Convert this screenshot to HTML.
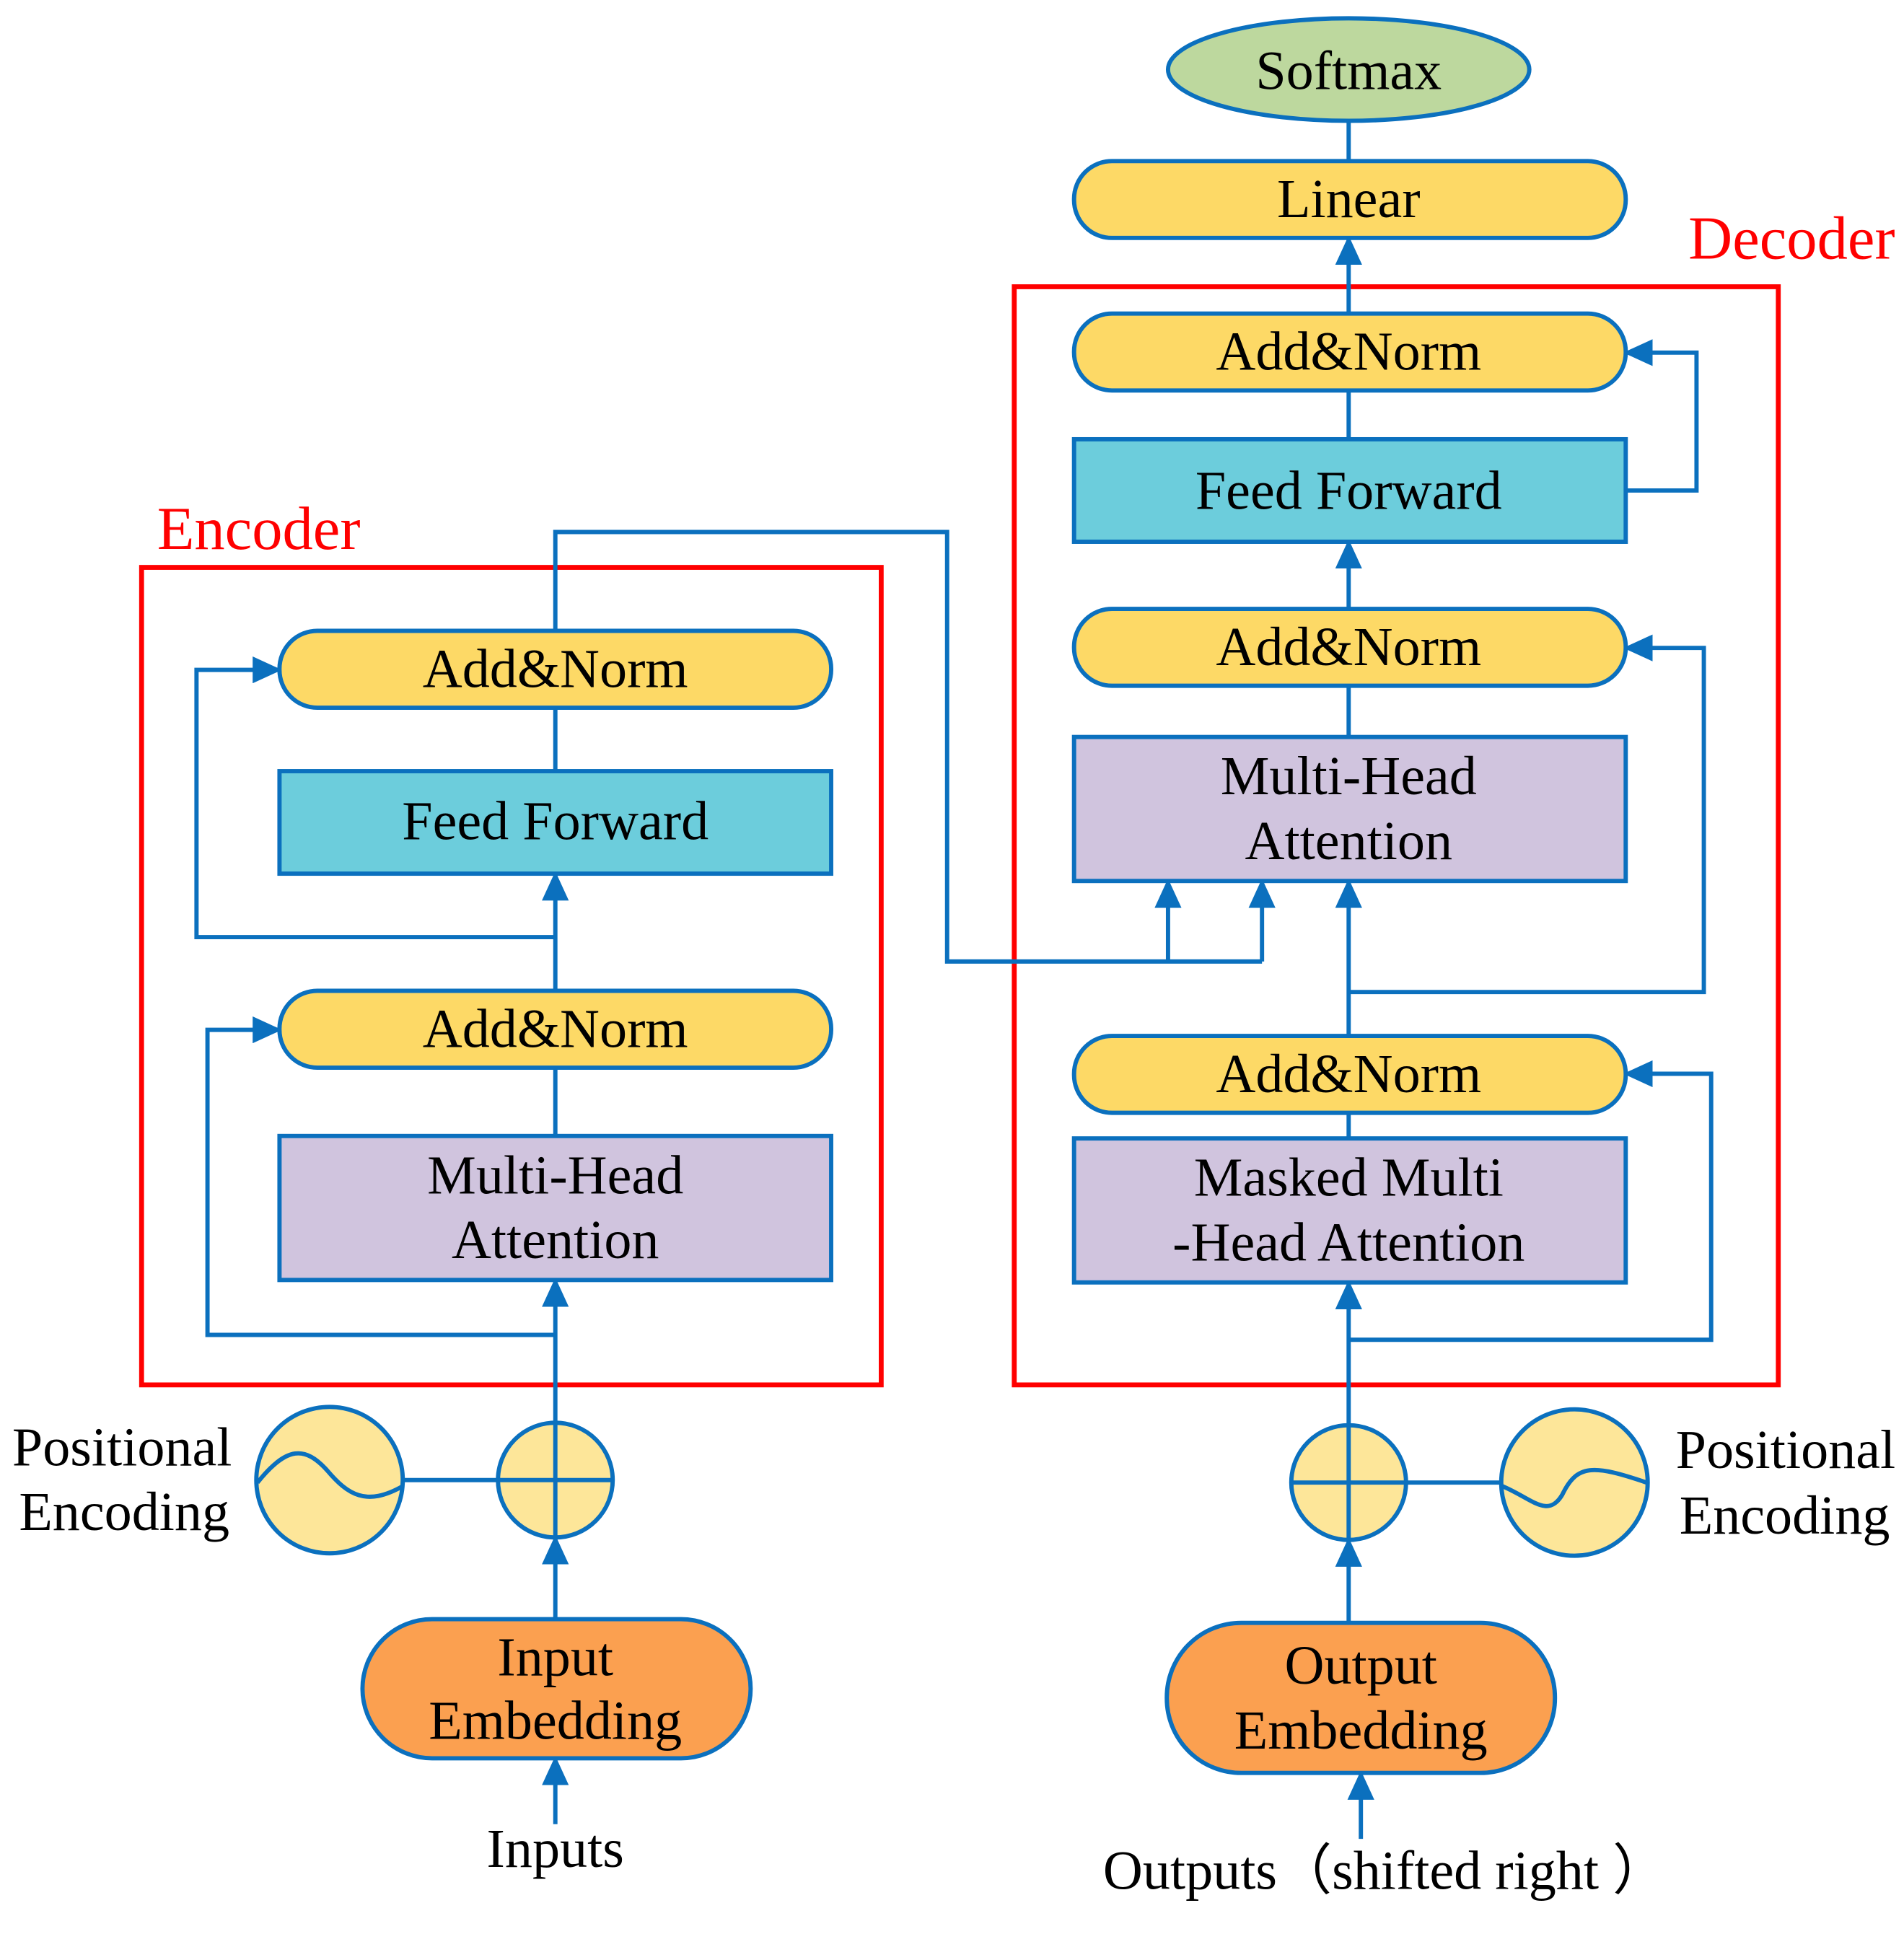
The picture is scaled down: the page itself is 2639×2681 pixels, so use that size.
<!DOCTYPE html>
<html><head><meta charset="utf-8"><style>html,body{margin:0;padding:0;background:#fff}svg{display:block}</style></head><body>
<svg width="2639" height="2681" viewBox="0 0 1560 1585" preserveAspectRatio="none" xmlns="http://www.w3.org/2000/svg">
<defs>
<marker id="b" markerWidth="24" markerHeight="22" refX="22" refY="11" orient="auto" markerUnits="userSpaceOnUse" viewBox="0 0 24 22"><path d="M0,0 L24,11 L0,22 z" fill="#0B70BE"/></marker></defs>
<g font-family="Liberation Serif, serif" font-size="45" text-anchor="middle" fill="#000">
<rect x="116" y="465" width="606" height="670" fill="none" stroke="#FF0000" stroke-width="4"/>
<rect x="831" y="235" width="626" height="900" fill="none" stroke="#FF0000" stroke-width="4"/>
<text x="212" y="450" fill="#FF0000" font-size="50">Encoder</text>
<text x="1468" y="212" fill="#FF0000" font-size="50">Decoder</text>
<g stroke="#0B70BE" stroke-width="3.5" fill="none">
<path d="M455,1166 V1049" marker-end="url(#b)"/>
<path d="M455,875 V931"/>
<path d="M455,812 V716" marker-end="url(#b)"/>
<path d="M455,580 V632"/>
<path d="M455,517 V436 H776 V788 H1034"/>
<path d="M455,768 H161 V549 H229" marker-end="url(#b)"/>
<path d="M455,1094 H170 V844 H229" marker-end="url(#b)"/>
<path d="M957,788 V722" marker-end="url(#b)"/>
<path d="M1034,788 V722" marker-end="url(#b)"/>
<path d="M455,1327 V1260" marker-end="url(#b)"/>
<path d="M455,1495 V1441" marker-end="url(#b)"/>
<path d="M330,1213 H408"/>
<path d="M1105,1168 V1051" marker-end="url(#b)"/>
<path d="M1105,912 V933"/>
<path d="M1105,849 V722" marker-end="url(#b)"/>
<path d="M1105,562 V604"/>
<path d="M1105,499 V444" marker-end="url(#b)"/>
<path d="M1105,320 V360"/>
<path d="M1105,257 V195" marker-end="url(#b)"/>
<path d="M1105,132 V99"/>
<path d="M1332,402 H1390 V289 H1332" marker-end="url(#b)"/>
<path d="M1105,813 H1396 V531 H1332" marker-end="url(#b)"/>
<path d="M1105,1098 H1402 V880 H1332" marker-end="url(#b)"/>
<path d="M1105,1330 V1262" marker-end="url(#b)"/>
<path d="M1115,1507 V1453" marker-end="url(#b)"/>
<path d="M1152,1215 H1230"/>
</g>
<g stroke="#0B70BE" stroke-width="3.5">
<ellipse cx="1105" cy="57" rx="148" ry="42" fill="#BDD89E"/>
<rect x="880" y="132" width="452" height="63" rx="31" fill="#FDD966"/>
<rect x="880" y="257" width="452" height="63" rx="31" fill="#FDD966"/>
<rect x="880" y="360" width="452" height="84" fill="#6CCDDC"/>
<rect x="880" y="499" width="452" height="63" rx="31" fill="#FDD966"/>
<rect x="880" y="604" width="452" height="118" fill="#D0C4DE"/>
<rect x="880" y="849" width="452" height="63" rx="31" fill="#FDD966"/>
<rect x="880" y="933" width="452" height="118" fill="#D0C4DE"/>
<rect x="229" y="517" width="452" height="63" rx="31" fill="#FDD966"/>
<rect x="229" y="632" width="452" height="84" fill="#6CCDDC"/>
<rect x="229" y="812" width="452" height="63" rx="31" fill="#FDD966"/>
<rect x="229" y="931" width="452" height="118" fill="#D0C4DE"/>
<rect x="297" y="1327" width="318" height="114" rx="57" fill="#FBA050"/>
<rect x="956" y="1330" width="318" height="123" rx="61" fill="#FBA050"/>
<circle cx="270" cy="1213" r="60" fill="#FDE699"/>
<circle cx="455" cy="1213" r="47" fill="#FDE699"/>
<circle cx="1105" cy="1215" r="47" fill="#FDE699"/>
<circle cx="1290" cy="1215" r="60" fill="#FDE699"/>
</g>
<g stroke="#0B70BE" stroke-width="3.5" fill="none">
<path d="M455,1166 V1260 M408,1213 H502"/>
<path d="M1105,1168 V1262 M1058,1215 H1152"/>
<path d="M211,1215 C235,1185 250,1185 268,1205 C285,1225 300,1235 330,1218"/>
<path d="M1231,1218 C1255,1228 1268,1245 1280,1225 C1292,1200 1305,1200 1349,1215"/>
</g>
<text x="1105" y="73">Softmax</text>
<text x="1105" y="178">Linear</text>
<text x="1105" y="303">Add&amp;Norm</text>
<text x="1105" y="417">Feed Forward</text>
<text x="1105" y="545">Add&amp;Norm</text>
<text x="1105" y="651">Multi-Head</text>
<text x="1105" y="704">Attention</text>
<text x="1105" y="895">Add&amp;Norm</text>
<text x="1105" y="980">Masked Multi</text>
<text x="1105" y="1033">-Head Attention</text>
<text x="455" y="563">Add&amp;Norm</text>
<text x="455" y="688">Feed Forward</text>
<text x="455" y="858">Add&amp;Norm</text>
<text x="455" y="978">Multi-Head</text>
<text x="455" y="1031">Attention</text>
<text x="455" y="1373">Input</text>
<text x="455" y="1425">Embedding</text>
<text x="1115" y="1380">Output</text>
<text x="1115" y="1433">Embedding</text>
<text x="455" y="1530">Inputs</text>
<text x="1135" y="1548">Outputs（shifted right ）</text>
<text x="190" y="1201" text-anchor="end">Positional</text>
<text x="188" y="1254" text-anchor="end">Encoding</text>
<text x="1373" y="1203" text-anchor="start">Positional</text>
<text x="1376" y="1257" text-anchor="start">Encoding</text>
</g>
</svg>
</body></html>
